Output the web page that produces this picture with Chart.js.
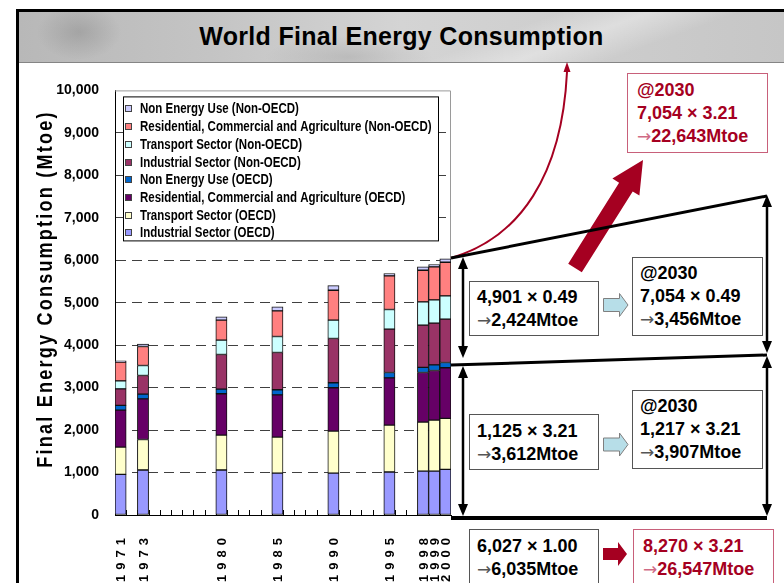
<!DOCTYPE html>
<html>
<head>
<meta charset="utf-8">
<script src="https://cdn.jsdelivr.net/npm/chart.js@4"></script>
<style>
  html, body { margin: 0; padding: 0; background: #fff; }
  body { width: 784px; height: 583px; position: relative; overflow: hidden; font-family: "Liberation Sans", Arial, sans-serif; }
  #frameTop { position: absolute; left: 16px; top: 9px; width: 768px; height: 3px; background: #000; }
  #frameLeft { position: absolute; left: 16px; top: 9px; width: 3px; height: 574px; background: #000; z-index: 5; }
  #banner {
    position: absolute; left: 19px; top: 12px; width: 765px; height: 50px;
    border-bottom: 1px solid #858585;
    background:
      radial-gradient(ellipse 60px 40px at 60px 20px, rgba(120,120,120,0.35), rgba(120,120,120,0) 70%),
      radial-gradient(ellipse 120px 30px at 330px 45px, rgba(140,140,140,0.3), rgba(140,140,140,0) 70%),
      linear-gradient(160deg, rgba(255,255,255,0) 60%, rgba(255,255,255,0.35) 70%, rgba(255,255,255,0) 80%),
      linear-gradient(90deg, #b8b8b8 0%, #c4c4c4 25%, #d4d4d4 50%, #cdcdcd 75%, #c6c6c6 100%);
    text-align: center; line-height: 48px;
    font-weight: bold; font-size: 25px; letter-spacing: 0.3px; color: #000;
  }
  #chartWrap { position: absolute; left: 0; top: 66px; width: 460px; height: 517px; }
  #yTitle {
    position: absolute; left: 45px; top: 289px; white-space: nowrap;
    font-weight: bold; font-size: 22px; letter-spacing: 2.7px; color: #000;
    transform: translate(-50%, -50%) rotate(-90deg) scaleX(0.82);
  }
  svg { position: absolute; left: 0; top: 0; }
  .box {
    position: absolute; background: #fff; border: 1px solid #555;
    font-weight: bold; font-size: 18px; line-height: 23px; color: #000;
    padding-left: 7px; box-sizing: border-box; white-space: nowrap;
  }
  .box .ar { font-family: "DejaVu Sans", sans-serif; font-weight: normal; font-size: 17px; color: #555; }
  .red { border-color: #C8607A; color: #A50021; }
  .red .ar { color: #D06A85; }
</style>
</head>
<body>
<div id="frameTop"></div>
<div id="frameLeft"></div>
<div id="banner">World Final Energy Consumption</div>

<div id="chartWrap"><canvas id="energyChart" width="460" height="517"></canvas></div>
<div id="yTitle">Final Energy Consumption (Mtoe)</div>

<svg width="784" height="583">
  <!-- curve to the 2030 total -->
  <path d="M451,258 C520,238 562,175 567,72" stroke="#A50021" stroke-width="2" fill="none"/>
  <polygon points="567,62 563.5,72 570.5,72" fill="#A50021"/>
  <!-- big red arrow -->
  <polygon points="568.2,263.7 619.1,182.8 612.4,178.6 643,160 639.4,195.6 632.7,191.4 581.8,272.3" fill="#A50021"/>
  <!-- bracket lines -->
  <line x1="451" y1="258" x2="767" y2="196" stroke="#000" stroke-width="3"/>
  <line x1="451" y1="365" x2="767" y2="355" stroke="#000" stroke-width="3"/>
  <line x1="451" y1="518" x2="767" y2="518" stroke="#000" stroke-width="4"/>
  <!-- left double arrows -->
  <line x1="463" y1="266" x2="463" y2="349" stroke="#000" stroke-width="2.5"/>
  <polygon points="463,257 458,269 468,269" fill="#000"/>
  <polygon points="463,358 458,346 468,346" fill="#000"/>
  <line x1="463" y1="375" x2="463" y2="507" stroke="#000" stroke-width="2.5"/>
  <polygon points="463,366 458,378 468,378" fill="#000"/>
  <polygon points="463,516 458,504 468,504" fill="#000"/>
  <!-- right double arrows -->
  <line x1="767" y1="204" x2="767" y2="344" stroke="#000" stroke-width="2.5"/>
  <polygon points="767,195 762,207 772,207" fill="#000"/>
  <polygon points="767,353 762,341 772,341" fill="#000"/>
  <line x1="767" y1="365" x2="767" y2="507" stroke="#000" stroke-width="2.5"/>
  <polygon points="767,356 762,368 772,368" fill="#000"/>
  <polygon points="767,516 762,504 772,504" fill="#000"/>
  <!-- block arrows -->
  <polygon points="603.5,298.5 619.5,298.5 619.5,293.5 628,305 619.5,316.5 619.5,311.5 603.5,311.5" fill="#B7DEE8" stroke="#7f7f7f" stroke-width="1"/>
  <polygon points="603.5,438 619.5,438 619.5,433 628,444.5 619.5,456 619.5,451 603.5,451" fill="#B7DEE8" stroke="#7f7f7f" stroke-width="1"/>
  <polygon points="603,548 618,548 618,542 627,554 618,566 618,560 603,560" fill="#A50021"/>
</svg>

<div class="box red" style="left:627px;top:73px;width:141px;height:80px;padding-top:5px;padding-left:9px;">
  <div>@2030</div><div>7,054 × 3.21</div><div><span class="ar">→</span>22,643Mtoe</div>
</div>
<div class="box" style="left:469px;top:281px;width:130px;height:55px;padding-top:4px;">
  <div>4,901 × 0.49</div><div><span class="ar">→</span>2,424Mtoe</div>
</div>
<div class="box" style="left:632px;top:257px;width:131px;height:79px;padding-top:4px;">
  <div>@2030</div><div>7,054 × 0.49</div><div><span class="ar">→</span>3,456Mtoe</div>
</div>
<div class="box" style="left:469px;top:414px;width:130px;height:56px;padding-top:5px;">
  <div>1,125 × 3.21</div><div><span class="ar">→</span>3,612Mtoe</div>
</div>
<div class="box" style="left:632px;top:390px;width:131px;height:79px;padding-top:4px;">
  <div>@2030</div><div>1,217 × 3.21</div><div><span class="ar">→</span>3,907Mtoe</div>
</div>
<div class="box" style="left:469px;top:529px;width:130px;height:62px;padding-top:5px;">
  <div>6,027 × 1.00</div><div><span class="ar">→</span>6,035Mtoe</div>
</div>
<div class="box red" style="left:633px;top:529px;width:141px;height:62px;padding-top:5px;padding-left:9px;">
  <div>8,270 × 3.21</div><div><span class="ar">→</span>26,547Mtoe</div>
</div>

<script>
// ===== Data (Mtoe) =====
const years = [];
for (let y = 1971; y <= 2000; y++) years.push(String(y));
const shownYears = ['1971', '1973', '1980', '1985', '1990', '1995', '1998', '1999', '2000'];

const industrialOecd    = [957, 1059, 1059, 988, 988, 1012, 1035, 1035, 1075];
const transportOecd     = [643, 720, 823, 847, 988, 1106, 1153, 1200, 1200];
const residentialOecd   = [870, 957, 973, 996, 1020, 1113, 1169, 1169, 1192];
const nonEnergyOecd     = [110, 110, 110, 118, 118, 126, 118, 133, 125];
const industrialNon     = [390, 440, 815, 878, 1043, 1019, 996, 981, 1020];
const transportNon      = [190, 236, 338, 377, 431, 463, 549, 549, 549];
const residentialNon    = [440, 447, 470, 604, 706, 792, 745, 776, 792];
const nonEnergyNon      = [30, 55, 79, 94, 110, 55, 78, 55, 78];

const yTicks = [0, 1000, 2000, 3000, 4000, 5000, 6000, 7000, 8000, 9000, 10000];

const series = [
  { label: 'Industrial Sector (OECD)', data: industrialOecd, color: '#9999FF' },
  { label: 'Transport Sector (OECD)', data: transportOecd, color: '#FFFFCC' },
  { label: 'Residential, Commercial and Agriculture (OECD)', data: residentialOecd, color: '#660066' },
  { label: 'Non Energy Use (OECD)', data: nonEnergyOecd, color: '#0066CC' },
  { label: 'Industrial Sector (Non-OECD)', data: industrialNon, color: '#993366' },
  { label: 'Transport Sector (Non-OECD)', data: transportNon, color: '#CCFFFF' },
  { label: 'Residential, Commercial and Agriculture (Non-OECD)', data: residentialNon, color: '#FF8080' },
  { label: 'Non Energy Use (Non-OECD)', data: nonEnergyNon, color: '#CCCCFF' }
];

// spread the sampled years over the full 1971-2000 axis
function fullRow(vals) {
  return years.map(y => {
    const k = shownYears.indexOf(y);
    return k < 0 ? null : vals[k];
  });
}

const FONT = '"Liberation Sans", Arial, sans-serif';
Chart.defaults.font.family = FONT;
Chart.defaults.color = '#000';

// ===== Plot frame + small upward ticks on the x axis =====
const frameTicks = {
  id: 'frameTicks',
  beforeDatasetsDraw(chart) {
    const { ctx, chartArea: a, scales: { x } } = chart;
    ctx.save();
    ctx.strokeStyle = '#9a9a9a';
    ctx.lineWidth = 1;
    ctx.beginPath();
    ctx.moveTo(a.left, a.top + 0.5);
    ctx.lineTo(a.right - 0.5, a.top + 0.5);
    ctx.lineTo(a.right - 0.5, a.bottom);
    ctx.stroke();
    ctx.strokeStyle = '#000';
    ctx.beginPath();
    for (let i = 1; i < years.length; i++) {
      const xb = Math.round((x.getPixelForValue(i - 1) + x.getPixelForValue(i)) / 2) + 0.5;
      ctx.moveTo(xb, a.bottom);
      ctx.lineTo(xb, a.bottom - 5);
    }
    ctx.stroke();
    ctx.restore();
  }
};

// ===== Legend box inside the plot (top item = last series) =====
const legendBox = {
  id: 'legendBox',
  afterDatasetsDraw(chart) {
    const { ctx, chartArea: a } = chart;
    const x = a.left + 8, y = a.top + 6, w = 315, h = 144;
    ctx.save();
    ctx.fillStyle = '#fff';
    ctx.fillRect(x, y, w, h);
    ctx.strokeStyle = '#000';
    ctx.lineWidth = 1;
    ctx.strokeRect(x + 0.5, y + 0.5, w, h);
    ctx.font = 'bold 14px ' + FONT;
    ctx.textBaseline = 'middle';
    chart.data.datasets.slice().reverse().forEach((ds, i) => {
      const cy = Math.round(y + 13 + i * 17.7);
      ctx.fillStyle = ds.backgroundColor;
      ctx.fillRect(x + 2, cy - 4, 7, 7);
      ctx.strokeStyle = '#444';
      ctx.strokeRect(x + 2.5, cy - 3.5, 6, 6);
      ctx.save();
      ctx.translate(x + 17, cy + 0.5);
      ctx.scale(0.82, 1);
      ctx.fillStyle = '#000';
      ctx.fillText(ds.label, 0, 0);
      ctx.restore();
    });
    ctx.restore();
  }
};

// ===== Rotated, spaced year labels =====
const yearLabels = {
  id: 'yearLabels',
  afterDraw(chart) {
    const { ctx, chartArea: a, scales: { x } } = chart;
    ctx.save();
    ctx.font = 'bold 13px ' + FONT;
    ctx.fillStyle = '#000';
    ctx.textAlign = 'right';
    ctx.textBaseline = 'middle';
    if ('letterSpacing' in ctx) ctx.letterSpacing = '5px';
    shownYears.forEach(lbl => {
      const px = x.getPixelForValue(years.indexOf(lbl));
      ctx.save();
      ctx.translate(px + 1, a.bottom + 18);
      ctx.rotate(-Math.PI / 2);
      ctx.fillText(lbl, 0, 0);
      ctx.restore();
    });
    ctx.restore();
  }
};

new Chart(document.getElementById('energyChart'), {
  type: 'bar',
  data: {
    labels: years,
    datasets: series.map(s => ({
      label: s.label,
      data: fullRow(s.data),
      backgroundColor: s.color,
      borderColor: '#111',
      borderWidth: 1,
      borderSkipped: false,
      barPercentage: 1,
      categoryPercentage: 1
    }))
  },
  options: {
    responsive: false,
    animation: false,
    layout: { padding: { top: 24, right: 9, left: 0, bottom: 0 } },
    plugins: { legend: { display: false }, tooltip: { enabled: false } },
    scales: {
      x: {
        stacked: true,
        grid: { display: false },
        ticks: { display: false },
        border: { color: '#000', width: 1 },
        afterFit: s => { s.height = 68; }
      },
      y: {
        stacked: true,
        min: 0,
        max: 10000,
        afterBuildTicks: s => { s.ticks = yTicks.map(v => ({ value: v })); },
        ticks: {
          padding: 16,
          color: '#000',
          font: { size: 14, weight: 'bold' },
          callback: v => v.toLocaleString('en-US')
        },
        grid: {
          drawTicks: false,
          lineWidth: 1,
          color: c => (c.tick && (c.tick.value === 0 || c.tick.value === 10000)) ? 'rgba(0,0,0,0)' : '#404040'
        },
        border: { color: '#000', width: 1, dash: [10, 6] },
        afterFit: s => { s.width = 115; }
      }
    }
  },
  plugins: [frameTicks, legendBox, yearLabels]
});
</script>
</body>
</html>
